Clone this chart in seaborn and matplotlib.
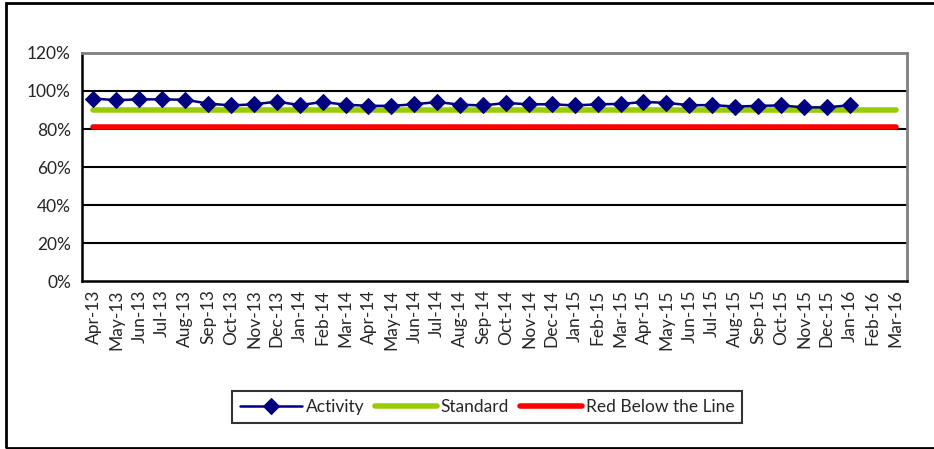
import numpy as np
import pandas as pd
import seaborn as sns
import matplotlib
matplotlib.use("Agg")
from matplotlib import pyplot as plt
from matplotlib.patches import Rectangle

sns.set_style("white")
plt.rcParams['font.family'] = ['Lato', 'DejaVu Sans']

"""
Chart data
"""
months = ["Apr-13", "May-13", "Jun-13", "Jul-13", "Aug-13", "Sep-13", "Oct-13", "Nov-13",
          "Dec-13", "Jan-14", "Feb-14", "Mar-14", "Apr-14", "May-14", "Jun-14", "Jul-14",
          "Aug-14", "Sep-14", "Oct-14", "Nov-14", "Dec-14", "Jan-15", "Feb-15", "Mar-15",
          "Apr-15", "May-15", "Jun-15", "Jul-15", "Aug-15", "Sep-15", "Oct-15", "Nov-15",
          "Dec-15", "Jan-16", "Feb-16", "Mar-16"]
activity = [96.0, 95.2, 95.6, 95.6, 95.4, 93.4, 92.4, 93.0, 94.4, 92.6, 94.2, 92.8,
            92.2, 92.2, 93.0, 94.2, 92.8, 92.4, 93.7, 93.0, 93.0, 92.4, 93.0, 93.2,
            94.2, 93.8, 92.5, 92.6, 91.8, 92.2, 92.4, 91.4, 91.4, 92.5]
standard = [90.0] * len(months)
red_line = [81.0] * len(months)

df = pd.DataFrame({"month": months,
                   "Standard": standard,
                   "Red Below the Line": red_line})
df["Activity"] = pd.Series(activity + [np.nan] * (len(months) - len(activity)))
df["x"] = np.arange(len(months))

fig = plt.figure(figsize=(9.34, 4.49), dpi=100)
ax = fig.add_axes([0.0878, 0.374, 0.8833, 0.508])

sns.lineplot(data=df, x="x", y="Activity", ax=ax, color="#000080", linewidth=1.8,
             marker="D", markersize=8.5, markeredgecolor="#000080", label="Activity", zorder=5)
sns.lineplot(data=df, x="x", y="Standard", ax=ax, color="#99CC00", linewidth=4,
             label="Standard", zorder=3)
sns.lineplot(data=df, x="x", y="Red Below the Line", ax=ax, color="#FF0000", linewidth=4,
             label="Red Below the Line", zorder=3)

ax.set_xlim(-0.5, len(months) - 0.5)
ax.set_ylim(0, 120)
ax.set_xlabel("")
ax.set_ylabel("")

# gridlines
for v in [20, 40, 60, 80, 100]:
    ax.axhline(v, color="black", linewidth=1.5, zorder=1)

ax.set_yticks([0, 20, 40, 60, 80, 100, 120])
ax.set_yticklabels(["0%", "20%", "40%", "60%", "80%", "100%", "120%"], fontsize=12.5)
ax.set_xticks(df["x"])
ax.set_xticklabels(months, rotation=90, fontsize=12.5)
ax.set_xticks(np.arange(-0.5, len(months), 1), minor=True)
ax.tick_params(axis="x", which="major", length=0, pad=6)
ax.tick_params(axis="x", which="minor", length=5, width=1.5, color="black", direction="out")
ax.tick_params(axis="y", length=5, width=1.5, color="black", direction="out", pad=3)

for side in ["left", "bottom"]:
    ax.spines[side].set_color("black")
    ax.spines[side].set_linewidth(1.8)
for side in ["top", "right"]:
    ax.spines[side].set_visible(True)
    ax.spines[side].set_color("#808080")
    ax.spines[side].set_linewidth(2)

leg = ax.legend(loc="center", bbox_to_anchor=(0.491, -0.553), ncol=3, frameon=True,
                fancybox=False, edgecolor="black", fontsize=12.5, handlelength=3.6,
                handletextpad=0.2, columnspacing=0.6, borderpad=0.45)
leg.get_frame().set_linewidth(1.5)

# outer chart border
fig.patches.append(Rectangle((0.006, 0.003), 1.0, 0.991, transform=fig.transFigure,
                             fill=False, edgecolor="black", linewidth=2))

fig.savefig("out.png", dpi=100)
